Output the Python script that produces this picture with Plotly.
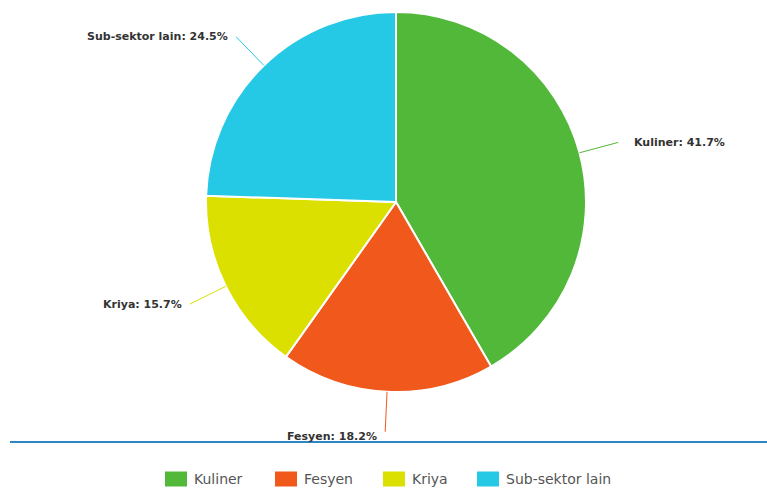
import math
import plotly.graph_objects as go

labels = ["Kuliner", "Fesyen", "Kriya", "Sub-sektor lain"]
values = [41.7, 18.2, 15.7, 24.5]
colors = ["#52b83a", "#f0581c", "#dbe000", "#25c8e5"]

W, H = 767, 492
cx, cy, R = 396, 202, 190  # pie center/radius in px
legend_x = [165, 275, 383, 477]  # legend item left edges (px)
legend_y = 479

def px_x(x):
    return x / W

def px_y(y):
    return 1 - y / H

fig = go.Figure(go.Pie(
    labels=labels, values=values, sort=False, direction="clockwise",
    marker=dict(colors=colors, line=dict(color="white", width=2)),
    textinfo="none", hoverinfo="label+percent",
    domain=dict(x=[px_x(cx - R), px_x(cx + R)], y=[px_y(cy + R), px_y(cy - R)]),
    showlegend=False,
))

shapes = []
annotations = []
total = sum(values)
cum = 0
for lab, v, c in zip(labels, values, colors):
    mid = (cum + v / 2) / total * 2 * math.pi
    cum += v
    sx, sy = math.sin(mid), -math.cos(mid)
    x0, y0 = cx + R * sx, cy + R * sy
    L = 40
    x1, y1 = cx + (R + L) * sx, cy + (R + L) * sy
    shapes.append(dict(type="line", xref="paper", yref="paper",
                       x0=px_x(x0), y0=px_y(y0), x1=px_x(x1), y1=px_y(y1),
                       line=dict(color=c, width=1)))
    right = sx > 0
    gap = 14 if right else 6
    annotations.append(dict(
        x=px_x(x1 + (gap if right else -gap)), y=px_y(y1 + (5 if abs(sy) > 0.95 else 0)),
        xref="paper", yref="paper", showarrow=False,
        xanchor="left" if right else "right", yanchor="middle",
        text=f"<b>{lab}: {v}%</b>",
        font=dict(family="DejaVu Sans, sans-serif", size=11, color="#333333"),
    ))

# legend
for lab, c, lx in zip(labels, colors, legend_x):
    shapes.append(dict(type="rect", xref="paper", yref="paper",
                       x0=px_x(lx), x1=px_x(lx + 22), y0=px_y(legend_y + 7.5), y1=px_y(legend_y - 7.5),
                       fillcolor=c, line=dict(width=0)))
    annotations.append(dict(x=px_x(lx + 27), y=px_y(legend_y), xref="paper", yref="paper",
                            showarrow=False, xanchor="left", yanchor="middle", text=lab,
                            font=dict(family="DejaVu Sans, sans-serif", size=14, color="#555555")))

shapes.append(dict(type="line", xref="paper", yref="paper",
                   x0=px_x(10), x1=1, y0=px_y(442), y1=px_y(442),
                   line=dict(color="#2e86c1", width=2)))

fig.update_layout(
    width=W, height=H,
    margin=dict(l=0, r=0, t=0, b=0),
    paper_bgcolor="white", plot_bgcolor="white",
    shapes=shapes, annotations=annotations,
    showlegend=False,
)

fig.write_html("out.html")
